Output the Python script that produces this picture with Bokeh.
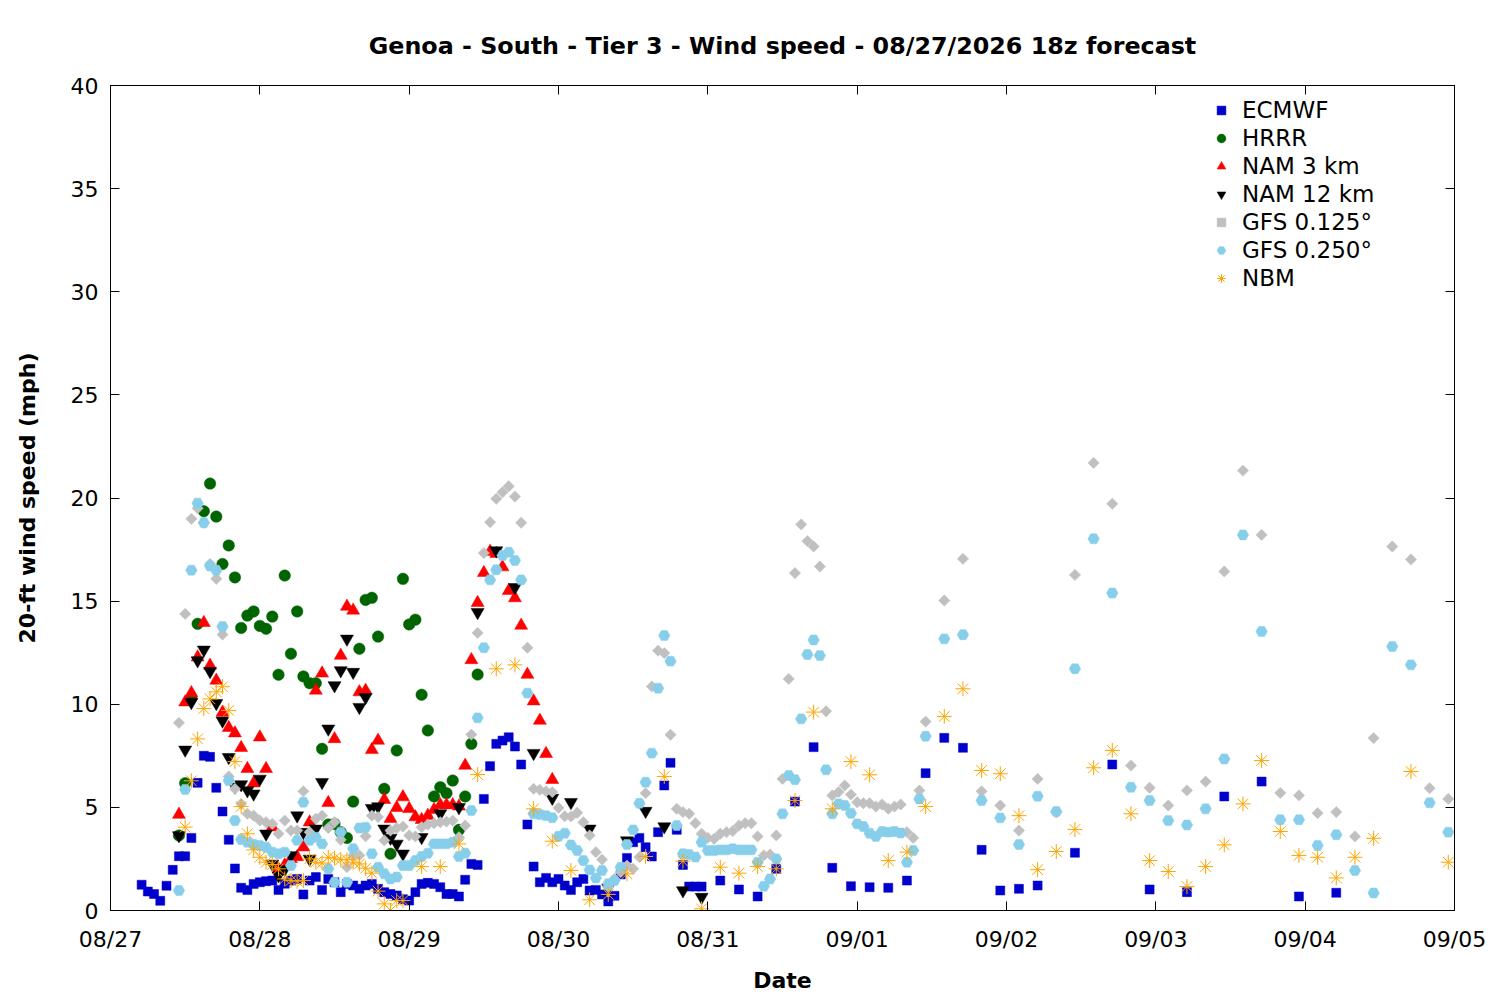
import numpy as np
from bokeh.plotting import figure
from bokeh.models import FixedTicker, LinearAxis, Legend, LegendItem, Range1d
from bokeh.embed import file_html
from bokeh.resources import INLINE

TITLE = "Genoa - South - Tier 3 - Wind speed - 08/27/2026 18z forecast"
X_LABEL = "Date"
Y_LABEL = "20-ft wind speed (mph)"
DAY_LABELS = ["08/27", "08/28", "08/29", "08/30", "08/31",
              "09/01", "09/02", "09/03", "09/04", "09/05"]
Y_TICKS = [0, 5, 10, 15, 20, 25, 30, 35, 40]

# valid times, hours after 08/27 00:00 local time
ECMWF_HOURS = list(range(5, 96)) + list(range(98, 150, 3)) + list(range(155, 198, 6))
ECMWF_MPH = [
    1.25, 0.92, 0.8, 0.47, 1.2, 1.97, 2.63, 2.63, 3.52, 6.19,
    7.5, 7.45, 5.95, 4.8, 3.43, 2.04, 1.1, 0.99, 1.29, 1.37,
    1.42, 1.45, 1.0, 1.3, 1.45, 1.53, 0.78, 1.45, 1.62, 1.0,
    1.53, 1.37, 0.89, 1.29, 1.21, 1.05, 1.21, 1.29, 1.05, 0.89,
    0.8, 0.73, 0.55, 0.48, 0.89, 1.29, 1.34, 1.29, 1.13, 0.8,
    0.8, 0.68, 1.49, 2.26, 2.21, 5.41, 7.0, 8.08, 8.24, 8.4,
    7.95, 7.08, 4.17, 2.13, 1.37, 1.58, 1.37, 1.53, 1.21, 1.0,
    1.37, 1.53, 0.97, 1.0, 0.78, 0.44, 0.71, 1.75, 2.55, 3.31,
    3.52, 3.07, 2.62, 3.8, 6.06, 7.16, 3.91, 2.21, 1.16, 1.16, 1.16,
    1.45, 1.02, 0.68, 2.02, 5.28, 7.92, 2.07, 1.18, 1.13, 1.1,
    1.45, 6.66, 8.37, 7.89, 2.94, 0.97, 1.05, 1.21,
    2.8, 7.08, 1.02, 0.89, 5.53, 6.25, 0.68, 0.86,
]

HRRR_HOURS = list(range(11, 60))
HRRR_MPH = [
    3.64, 6.17, 10.3, 13.9, 19.36, 20.7, 19.1, 16.8, 17.7, 16.15,
    13.7, 14.3, 14.5, 13.8, 13.66, 14.25, 11.43, 16.24, 12.45, 14.5,
    11.35, 11.02, 11.02, 7.84, 4.17, 4.2, 3.8, 3.52, 5.28, 12.69,
    15.06, 15.16, 13.28, 5.9, 2.75, 7.76, 16.08, 13.87, 14.1, 10.46,
    8.73, 5.53, 5.98, 5.69, 6.3, 3.91, 5.53, 8.08, 11.44,
]

NAM3_HOURS = list(range(11, 72))
NAM3_MPH = [
    4.65, 10.1, 10.55, 12.28, 13.95, 11.88, 11.15, 9.6, 8.86, 8.6,
    7.89, 6.87, 6.17, 8.4, 6.87, 4.04, 2.0, 2.2, 2.5, 2.6,
    3.07, 4.28, 10.67, 11.5, 5.22, 8.32, 12.36, 14.74, 14.55, 10.59,
    10.67, 7.79, 8.24, 5.37, 4.45, 4.98, 5.5, 4.93, 4.53, 4.4,
    4.6, 4.88, 5.12, 5.12, 5.12, 5.05, 7.03, 12.15, 14.92, 16.37,
    17.4, 17.3, 16.65, 15.5, 15.15, 13.82, 11.44, 10.15, 9.21, 7.6, 6.34,
]

NAM12_HOURS = list(range(11, 48)) + list(range(50, 96, 3))
NAM12_MPH = [
    3.64, 7.79, 10.1, 12.12, 12.64, 11.6, 10.05, 9.2, 7.43, 6.0,
    6.11, 5.82, 5.66, 6.38, 3.72, 2.26, 1.7, 2.0, 2.67, 4.6,
    3.8, 2.5, 3.96, 6.22, 8.81, 10.91, 11.64, 13.17, 11.56, 9.86,
    10.34, 4.96, 5.04, 3.96, 3.52, 3.23, 2.75,
    3.55, 4.7, 5.0, 14.46, 17.45, 15.67, 7.63, 5.45, 5.25, 3.96,
    1.1, 3.39, 4.82, 4.07, 0.97, 0.65,
]

GFS125_HOURS = list(range(11, 132)) + list(range(134, 216, 3))
GFS125_MPH = [
    9.1, 14.38, 18.99, 19.5, 18.8, 16.8, 16.08, 13.38, 6.5, 5.9,
    5.17, 4.69, 4.6, 4.36, 4.28, 4.2, 3.72, 4.36, 3.88, 3.88,
    5.78, 3.8, 4.45, 4.6, 4.0, 4.28, 3.43, 2.1, 2.67, 2.67,
    3.6, 4.6, 4.53, 3.4, 3.88, 4.0, 4.07, 3.64, 3.59, 4.04,
    4.17, 4.23, 4.28, 4.31, 4.36, 3.55, 4.12, 8.53, 13.46, 17.33,
    18.83, 19.96, 20.28, 20.57, 20.07, 18.8, 12.74, 5.9, 5.85, 5.78,
    5.74, 4.98, 4.57, 4.56, 4.74, 4.28, 3.64, 2.83, 2.47, 1.13,
    1.53, 1.86, 2.18, 2.02, 2.59, 5.69, 10.86, 12.6, 12.48, 8.52,
    4.93, 4.77, 4.69, 4.23, 3.72, 3.52, 3.47, 3.72, 3.8, 3.85,
    4.12, 4.23, 4.23, 3.59, 2.67, 2.72, 3.64, 6.38, 11.23, 16.36,
    18.72, 17.91, 17.65, 16.68, 9.66, 5.58, 5.74, 6.06, 5.62, 5.25,
    5.2, 5.2, 5.04, 5.14, 4.93, 5.04, 5.14, 3.8, 3.52, 5.82, 9.16,
    15.03, 17.05, 5.78, 5.09, 3.88, 6.38, 4.75, 16.27, 21.7, 19.72,
    7.03, 5.95, 5.09, 5.82, 6.25, 16.44, 21.33, 18.21, 5.7, 5.58,
    4.72, 4.77, 3.59, 8.36, 17.65, 17.02, 5.93, 5.41,
]

GFS250_HOURS = list(range(11, 132)) + list(range(134, 216, 3))
GFS250_MPH = [
    0.97, 5.87, 16.5, 19.75, 18.8, 16.7, 16.5, 13.77, 6.3, 4.36,
    3.44, 3.31, 3.2, 3.15, 3.07, 2.83, 2.75, 2.83, 2.18, 3.4,
    5.25, 3.4, 3.55, 3.23, 2.02, 1.37, 3.8, 1.37, 3.0, 4.0,
    4.04, 2.75, 2.1, 1.78, 1.53, 1.62, 2.18, 2.18, 2.42, 2.62,
    2.78, 3.23, 3.23, 3.23, 3.31, 2.62, 2.78, 4.85, 9.34, 12.74,
    16.03, 16.52, 17.21, 17.37, 16.97, 16.03, 10.54, 4.69, 4.65, 4.6,
    4.5, 3.6, 3.75, 3.18, 2.91, 2.42, 1.97, 1.58, 1.94, 1.3,
    1.45, 2.1, 3.2, 3.91, 5.2, 6.22, 7.63, 10.78, 13.33, 12.09,
    4.12, 2.75, 2.72, 2.59, 3.31, 2.91, 2.91, 2.94, 2.94, 2.99,
    2.94, 2.94, 2.94, 2.34, 1.18, 1.53, 2.5, 4.69, 6.55, 6.34,
    9.29, 12.41, 13.12, 12.36, 6.82, 4.69, 5.17, 5.09, 4.72, 4.2,
    4.07, 3.75, 3.59, 3.83, 3.8, 3.83, 3.76, 2.34, 2.91, 5.41, 8.45,
    13.17, 13.37, 5.33, 4.49, 3.2, 5.54, 4.8, 11.72, 18.02, 15.39,
    5.98, 5.33, 4.36, 4.15, 4.93, 7.35, 18.21, 13.53, 4.4, 4.4,
    3.15, 3.67, 1.94, 0.85, 12.8, 11.91, 5.22, 3.8,
]

NBM_HOURS = list(range(12, 48)) + list(range(50, 204, 3)) + [209, 215]
NBM_MPH = [
    4.04, 6.29, 8.32, 9.79, 10.26, 10.6, 10.85, 9.7, 7.22, 5.04,
    3.72, 2.94, 2.58, 2.34, 2.23, 2.02, 1.53, 1.45, 1.42, 1.45,
    2.5, 2.34, 2.3, 2.58, 2.54, 2.46, 2.46, 2.34, 2.26, 2.05,
    1.81, 0.94, 0.32, 0.0, 0.48, 0.48,
    2.13, 2.13, 3.23, 6.59, 11.72, 11.91, 4.93, 3.36, 1.94, 0.52,
    0.78, 1.78, 2.62, 6.5, 2.39, 0.08, 2.1, 1.81, 2.13, 2.02,
    5.33, 9.62, 4.93, 7.22, 6.58, 2.42, 2.83, 5.04, 9.41, 10.75,
    6.79, 6.63, 4.6, 1.98, 2.86, 3.93, 6.92, 7.76, 4.69, 2.42,
    1.89, 1.16, 2.13, 3.18, 5.17, 7.27, 3.83, 2.67, 2.58, 1.58,
    2.58, 3.5,
    6.74, 2.34,
]

SERIES = [
    ("ECMWF", ECMWF_HOURS, ECMWF_MPH, "square", "#0000cc", 9, 0.0),
    ("HRRR", HRRR_HOURS, HRRR_MPH, "circle", "#006400", 11.5, 0.0),
    ("NAM 3 km", NAM3_HOURS, NAM3_MPH, "triangle", "#ff0000", 13, 0.0),
    ("NAM 12 km", NAM12_HOURS, NAM12_MPH, "inverted_triangle", "#000000", 13, 0.0),
    ("GFS 0.125°", GFS125_HOURS, GFS125_MPH, "square", "#c0c0c0", 8, np.pi / 4),
    ("GFS 0.250°", GFS250_HOURS, GFS250_MPH, "hex", "#87ceeb", 11.5, 0.0),
    ("NBM", NBM_HOURS, NBM_MPH, "asterisk", "#ffa500", 15, 0.0),
]

FONT = "DejaVu Sans"

p = figure(frame_width=1344, frame_height=825,
           x_range=Range1d(0, len(DAY_LABELS) - 1), y_range=Range1d(Y_TICKS[0], Y_TICKS[-1]),
           output_backend="svg", toolbar_location=None,
           min_border_left=110, min_border_right=38, min_border_top=85, min_border_bottom=74)

p.title.text = TITLE
p.title.align = "center"
p.title.text_font = FONT
p.title.text_font_size = "23.8px"
p.title.text_font_style = "bold"
p.title.text_color = "black"
p.title.standoff = 51

p.xgrid.visible = False
p.ygrid.visible = False
p.outline_line_color = "black"
p.outline_line_width = 1
p.background_fill_color = "white"
p.border_fill_color = "white"

x_ticks = list(range(len(DAY_LABELS)))
p.xaxis.ticker = FixedTicker(ticks=x_ticks)
p.xaxis.major_label_overrides = {i: lab for i, lab in enumerate(DAY_LABELS)}
p.yaxis.ticker = FixedTicker(ticks=Y_TICKS)

for ax in (p.xaxis[0], p.yaxis[0]):
    ax.major_tick_in = 9
    ax.major_tick_out = 0
    ax.minor_tick_line_color = None
    ax.axis_line_color = "black"
    ax.major_tick_line_color = "black"
    ax.major_label_text_font = FONT
    ax.major_label_text_font_size = "22px"
    ax.major_label_text_color = "black"
    ax.axis_label_text_font = FONT
    ax.axis_label_text_font_size = "22px"
    ax.axis_label_text_font_style = "bold"
    ax.axis_label_text_color = "black"

p.xaxis.axis_label = X_LABEL
p.yaxis.axis_label = Y_LABEL
p.xaxis.major_label_standoff = 16
p.xaxis.axis_label_standoff = 13
p.yaxis.major_label_standoff = 12
p.yaxis.axis_label_standoff = 28

top_axis = LinearAxis(ticker=FixedTicker(ticks=x_ticks),
                      major_label_overrides={i: "" for i in x_ticks})
right_axis = LinearAxis(ticker=FixedTicker(ticks=Y_TICKS),
                        major_label_overrides={t: "" for t in Y_TICKS})
for ax in (top_axis, right_axis):
    ax.major_tick_in = 9
    ax.major_tick_out = 0
    ax.minor_tick_line_color = None
    ax.axis_line_color = "black"
    ax.major_label_text_font_size = "1px"
p.add_layout(top_axis, "above")
p.add_layout(right_axis, "right")

items = []
for name, hours, vals, marker, color, size, angle in SERIES:
    xs = [h / 24.0 for h in hours]
    if marker == "asterisk":
        r = p.scatter(xs, vals, marker=marker, size=size, line_color=color, line_width=1.0)
    else:
        r = p.scatter(xs, vals, marker=marker, size=size, angle=angle,
                      fill_color=color, line_color=color, line_width=0.5)
    items.append(LegendItem(label=name, renderers=[r]))

legend = Legend(items=items, location=(1100, 618), margin=0, padding=6,
                spacing=0, glyph_width=22, glyph_height=28, label_height=28,
                label_standoff=10,
                border_line_color=None, background_fill_alpha=0,
                label_text_font=FONT, label_text_font_size="23px",
                label_text_color="black")
p.add_layout(legend)

open("out.html", "w").write(file_html(p, INLINE))
